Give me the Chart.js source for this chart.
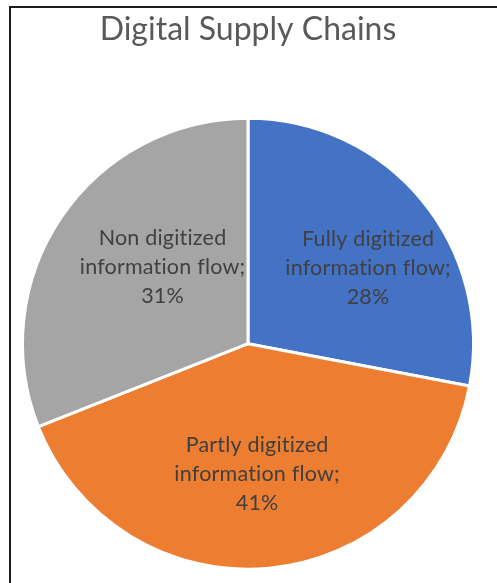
<!DOCTYPE html>
<html lang="en">
<head>
  <meta charset="UTF-8">
  <title>Digital Supply Chains</title>
  <script src="https://cdn.jsdelivr.net/npm/chart.js"></script>
  <style>
    body {
      margin: 0;
      background: #ffffff;
      overflow: hidden;
    }
    .frame {
      position: absolute;
      top: 6px;
      left: 9px;
      width: 600px;
      height: 600px;
      border-top: 2px solid #1c1c1c;
      border-left: 2px solid #1c1c1c;
    }
    #pieChart {
      position: absolute;
      top: 0;
      left: 0;
    }
  </style>
</head>
<body>
<div class="frame"></div>
<canvas id="pieChart" width="497" height="583"></canvas>

<script>
  const categories = ['Fully digitized information flow', 'Partly digitized information flow', 'Non digitized information flow'];
  const shares = [28, 41, 31];
  const sliceColors = ['#4472C4', '#ED7D31', '#A5A5A5'];
  // label nudges (deg off mid-angle, fraction of radius) to mimic excel best fit
  const labelAngleShift = [7.3, 1.4, 7.8];
  const labelRadius = [0.63, 0.58, 0.51];

  function splitLabel(name) {
    const i = name.indexOf(' information');
    return [name.slice(0, i), name.slice(i + 1) + ';'];
  }

  const sliceLabels = {
    id: 'sliceLabels',
    afterDatasetsDraw(chart) {
      const ctx = chart.ctx;
      const meta = chart.getDatasetMeta(0);
      ctx.save();
      ctx.fillStyle = '#404040';
      ctx.font = '21.5px Lato';
      // a tiny spacing keeps the "ti" ligature off, closer to the original font
      if ('letterSpacing' in ctx) ctx.letterSpacing = '0.2px';
      ctx.textAlign = 'center';
      ctx.textBaseline = 'middle';
      meta.data.forEach((arc, i) => {
        const p = arc.getProps(['x', 'y', 'startAngle', 'endAngle', 'outerRadius'], true);
        const mid = (p.startAngle + p.endAngle) / 2 + labelAngleShift[i] * Math.PI / 180;
        const r = p.outerRadius * labelRadius[i];
        const cx = p.x + Math.cos(mid) * r;
        const cy = p.y + Math.sin(mid) * r;
        const lines = splitLabel(categories[i]).concat([shares[i] + '%']);
        const lh = 29;
        lines.forEach((t, k) => {
          ctx.fillText(t, cx, cy + (k - 1) * lh);
        });
      });
      ctx.restore();
    }
  };

  new Chart(document.getElementById('pieChart'), {
    type: 'pie',
    data: {
      labels: categories,
      datasets: [{
        data: shares,
        backgroundColor: sliceColors,
        borderColor: '#ffffff',
        borderWidth: 3
      }]
    },
    options: {
      responsive: false,
      animation: false,
      layout: { padding: { top: 0, left: 21, right: 22, bottom: 12 } },
      plugins: {
        legend: { display: false },
        tooltip: { enabled: false },
        title: {
          display: true,
          text: 'Digital Supply Chains',
          color: '#595959',
          font: { family: 'Lato', size: 32, weight: 'normal' },
          padding: { top: 10, bottom: 68 }
        }
      }
    },
    plugins: [sliceLabels]
  });
</script>
</body>
</html>
